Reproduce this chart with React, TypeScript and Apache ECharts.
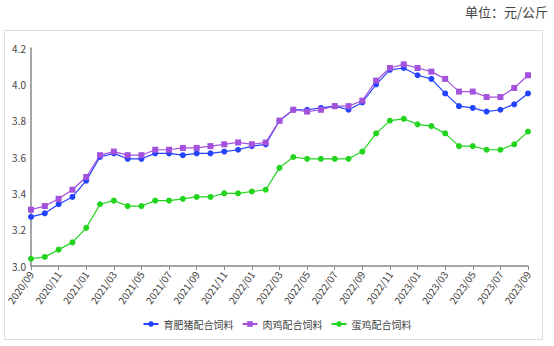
import React, { useEffect, useRef } from "react";
import * as echarts from "echarts";

const months: string[] = [
  "2020/09", "2020/10", "2020/11", "2020/12",
  "2021/01", "2021/02", "2021/03", "2021/04", "2021/05", "2021/06", "2021/07", "2021/08", "2021/09", "2021/10", "2021/11", "2021/12",
  "2022/01", "2022/02", "2022/03", "2022/04", "2022/05", "2022/06", "2022/07", "2022/08", "2022/09", "2022/10", "2022/11", "2022/12",
  "2023/01", "2023/02", "2023/03", "2023/04", "2023/05", "2023/06", "2023/07", "2023/08", "2023/09",
];

const pigFeed: number[] = [
  3.27, 3.29, 3.34, 3.38, 3.47, 3.60, 3.62, 3.59, 3.59, 3.62, 3.62, 3.61, 3.62,
  3.62, 3.63, 3.64, 3.66, 3.67, 3.80, 3.86, 3.86, 3.87, 3.88, 3.86, 3.90,
  4.00, 4.08, 4.09, 4.05, 4.03, 3.95, 3.88, 3.87, 3.85, 3.86, 3.89, 3.95,
];

const broilerFeed: number[] = [
  3.31, 3.33, 3.37, 3.42, 3.49, 3.61, 3.63, 3.61, 3.61, 3.64, 3.64, 3.65, 3.65,
  3.66, 3.67, 3.68, 3.67, 3.68, 3.80, 3.86, 3.85, 3.86, 3.88, 3.88, 3.91,
  4.02, 4.09, 4.11, 4.09, 4.07, 4.03, 3.96, 3.96, 3.93, 3.93, 3.98, 4.05,
];

const layerFeed: number[] = [
  3.04, 3.05, 3.09, 3.13, 3.21, 3.34, 3.36, 3.33, 3.33, 3.36, 3.36, 3.37, 3.38,
  3.38, 3.40, 3.40, 3.41, 3.42, 3.54, 3.60, 3.59, 3.59, 3.59, 3.59, 3.63,
  3.73, 3.80, 3.81, 3.78, 3.77, 3.73, 3.66, 3.66, 3.64, 3.64, 3.67, 3.74,
];

const seriesNames: string[] = ["育肥猪配合饲料", "肉鸡配合饲料", "蛋鸡配合饲料"];
const unitText = "单位：元/公斤";

export default function App() {
  const ref = useRef<HTMLDivElement>(null);
  useEffect(() => {
    if (!ref.current) return;
    const chart = echarts.init(ref.current, undefined, { renderer: "svg" });
    const font = "'Noto Sans CJK SC', 'Noto Sans', sans-serif";
    const mk = (name: string, data: number[], color: string, symbol: string) => ({
      name,
      type: "line",
      data,
      symbol,
      symbolSize: 6,
      showSymbol: true,
      itemStyle: { color },
      lineStyle: { color, width: 1.2 },
    });
    chart.setOption({
      animation: false,
      textStyle: { fontFamily: font },
      graphic: [
        {
          type: "rect",
          shape: { x: 4.5, y: 30.5, width: 538, height: 309 },
          style: { fill: "none", stroke: "#dcdcdc", lineWidth: 1 },
          silent: true,
        },
        {
          type: "text",
          right: 6,
          top: 5,
          style: { text: unitText, fontSize: 13, fill: "#444", fontFamily: font },
        },
      ],
      legend: {
        bottom: 12,
        left: "center",
        itemWidth: 15,
        itemHeight: 7,
        itemGap: 8,
        textStyle: { fontSize: 10, color: "#444", fontFamily: font },
        data: seriesNames,
      },
      grid: { left: 31, right: 26, top: 48, bottom: 80 },
      xAxis: {
        type: "category",
        data: months,
        boundaryGap: false,
        axisLine: { lineStyle: { color: "#888", width: 1.5 } },
        axisTick: { interval: 1, length: 4, lineStyle: { color: "#888" } },
        axisLabel: { interval: 1, rotate: 55, fontSize: 10, color: "#444", margin: 6, fontFamily: font },
      },
      yAxis: {
        type: "value",
        min: 3.0,
        max: 4.2,
        interval: 0.2,
        splitLine: { show: false },
        axisLine: { show: true, lineStyle: { color: "#888", width: 1.5 } },
        axisTick: { show: false },
        axisLabel: { fontSize: 10, color: "#444", margin: 5, formatter: (v: number) => v.toFixed(1) },
      },
      series: [
        mk(seriesNames[0], pigFeed, "#2343ff", "circle"),
        mk(seriesNames[1], broilerFeed, "#a452dd", "rect"),
        mk(seriesNames[2], layerFeed, "#22d41e", "circle"),
      ],
    });
    return () => chart.dispose();
  }, []);
  return (
    <div
      ref={ref}
      style={{ position: "absolute", left: 0, top: 0, width: 554, height: 346, background: "#fff" }}
    />
  );
}
